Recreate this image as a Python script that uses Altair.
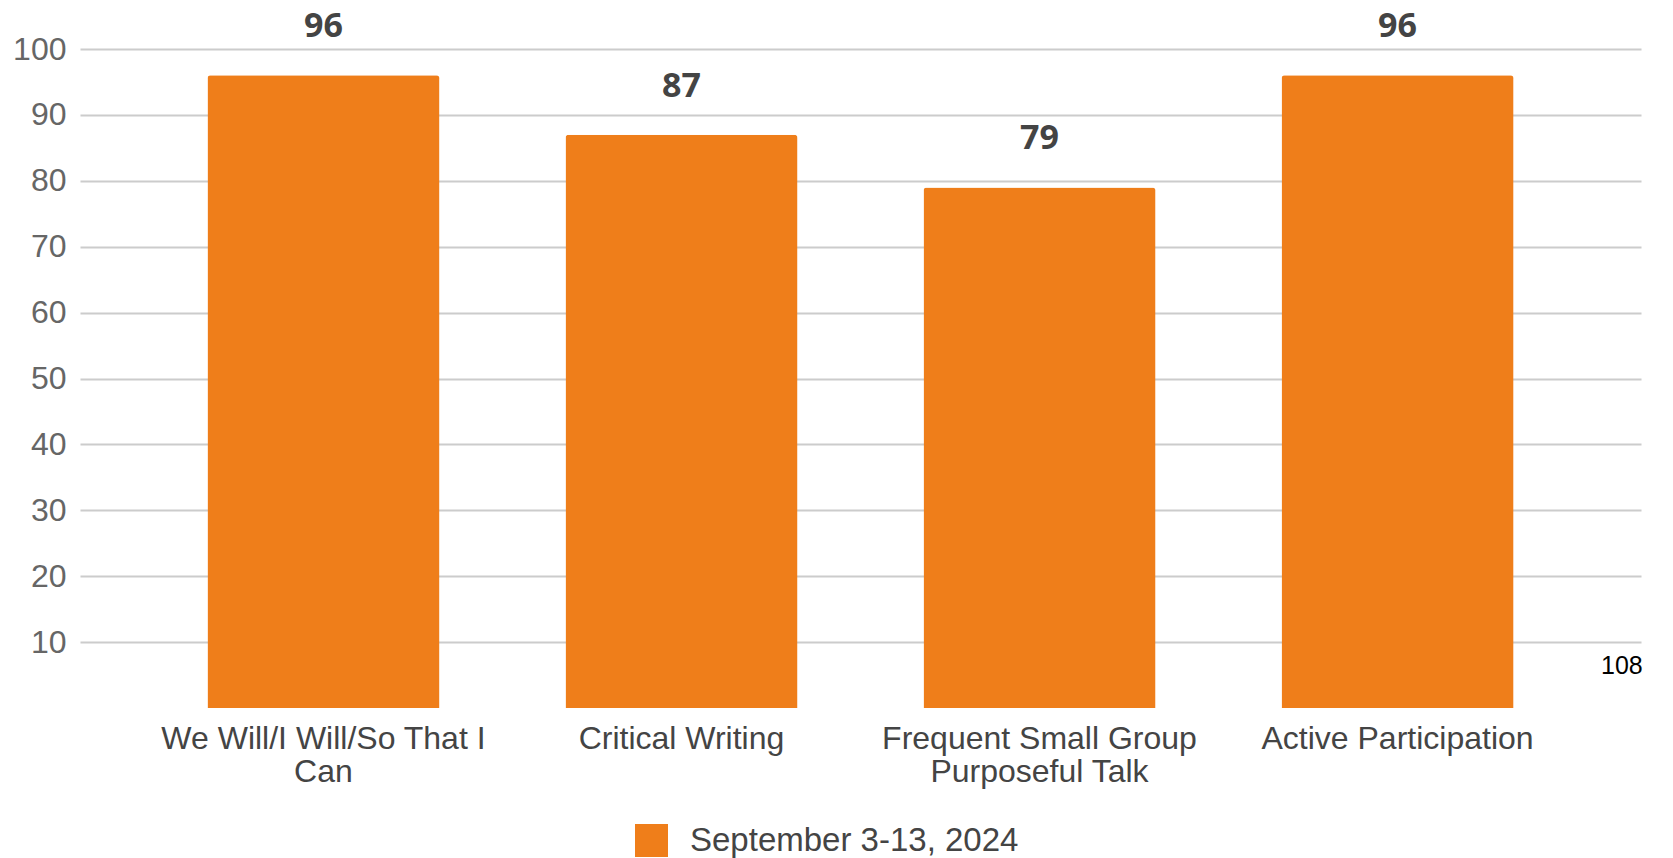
import json
import altair as alt
import pandas as pd

categories = ["We Will/I Will/So That I Can", "Critical Writing",
              "Frequent Small Group Purposeful Talk", "Active Participation"]
label_lines = [["We Will/I Will/So That I", "Can"], ["Critical Writing"],
               ["Frequent Small Group", "Purposeful Talk"], ["Active Participation"]]
values = [96, 87, 79, 96]
series_name = "September 3-13, 2024"
y_ticks = [10, 20, 30, 40, 50, 60, 70, 80, 90, 100]
page_note = ["108"]

df = pd.DataFrame({"category": categories, "value": values,
                   "series": [series_name] * len(categories)})
note_df = pd.DataFrame({"note": page_note})

label_map = json.dumps(dict(zip(categories, label_lines)))

ORANGE = "#EF7E1A"

x_enc = alt.X("category:N", sort=categories,
              scale=alt.Scale(paddingInner=0.352, paddingOuter=0.356),
              axis=alt.Axis(title=None, labelAngle=0, domain=False, ticks=False,
                            labelFontSize=32, labelColor="#444444",
                            labelFont="Liberation Sans", labelPadding=15,
                            labelLineHeight=33, labelLimit=600,
                            labelExpr=label_map + "[datum.label]"))
y_enc = alt.Y("value:Q", scale=alt.Scale(domain=[0, 100], nice=False),
              axis=alt.Axis(title=None, values=y_ticks, domain=False, ticks=False,
                            grid=True, gridColor="#CCCCCC", gridWidth=2,
                            labelFontSize=32, labelColor="#666666",
                            labelFont="Liberation Sans", labelPadding=14))

bars = alt.Chart(df).mark_bar(cornerRadiusTopLeft=3, cornerRadiusTopRight=3).encode(
    x=x_enc, y=y_enc,
    color=alt.Color("series:N",
                    scale=alt.Scale(domain=[series_name], range=[ORANGE]),
                    legend=alt.Legend(title=None, orient="none", legendX=555, legendY=775,
                                      symbolType="square", symbolSize=1089,
                                      symbolStrokeWidth=0, labelFontSize=33,
                                      labelColor="#444444", labelFont="Liberation Sans",
                                      labelOffset=22, labelLimit=600, padding=0)))

labels = alt.Chart(df).mark_text(dy=-38, baseline="alphabetic", fontSize=34,
                                 fontWeight="bold", font="Open Sans",
                                 color="#444444").encode(
    x=alt.X("category:N", sort=categories), y="value:Q", text="value:Q")

note = alt.Chart(note_df).mark_text(align="left", baseline="alphabetic", fontSize=25,
                                    font="Liberation Sans", color="#000000").encode(
    x=alt.value(1521), y=alt.value(625), text="note:N")

chart = alt.layer(bars, labels, note).properties(
    width=1561, height=659,
    autosize=alt.AutoSizeParams(type="none"),
    padding={"left": 80, "top": 49, "right": 32, "bottom": 150},
    background="white",
).configure_view(stroke=None)

chart.save("out.html", embed_options={"renderer": "svg", "actions": False})
